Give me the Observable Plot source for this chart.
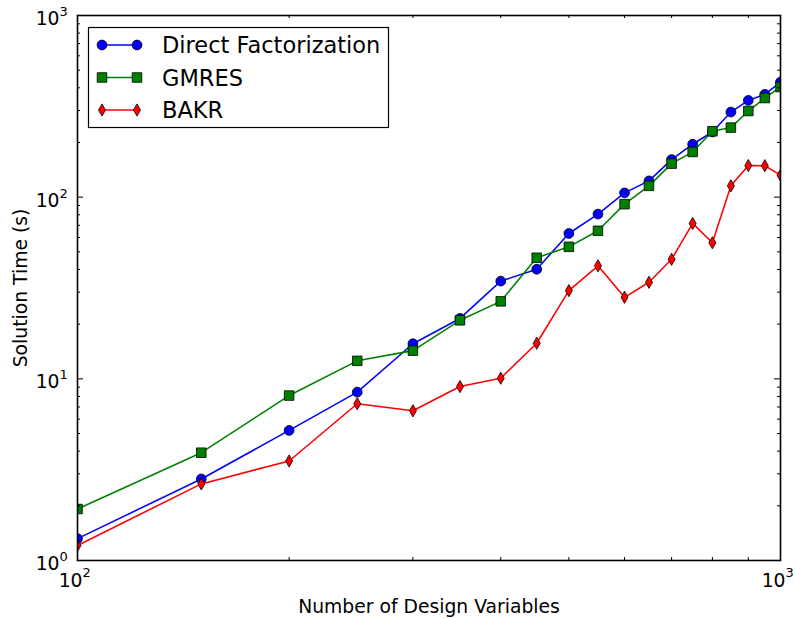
<!DOCTYPE html>
<html><head><meta charset="utf-8">
<script src="https://cdn.jsdelivr.net/npm/d3@7"></script>
<script src="https://cdn.jsdelivr.net/npm/@observablehq/plot@0.6"></script>
<style>
html,body{margin:0;padding:0;background:#fff;}
#wrap{position:relative;width:795px;height:619px;}
#wrap svg{display:block;}
</style></head><body><div id="wrap"></div>
<script>
// ---- data ----
const designVars = [100,150,200,250,300,350,400,450,500,550,600,650,700,750,800,850,900,950,1000];
const directFactorization = [1.32,2.81,5.2,8.45,15.6,21.5,34.5,40.1,63.1,80.7,105.6,122.9,161,195.6,228.5,294,341,368,430];
const gmres = [1.92,3.92,8.09,12.56,14.3,21.0,26.7,46.4,53.3,65.3,91.5,115.4,153,177.4,230.5,241.5,298,351.4,404];
const bakr = [1.21,2.64,3.53,7.29,6.67,9.07,10.08,15.7,30.6,41.9,28.1,34.0,45.5,71.7,56.1,115.4,149.3,149,132];
const seriesNames = ["Direct Factorization","GMRES","BAKR"];
const seriesColors = ["#0000ff","#008000","#ff0000"];
const seriesSymbols = ["circle","square","diamond"];
const seriesR = [4.9,5.4,3.7];
const xMajorTicks = [100,1000];
const xMinorTicks = [200,300,400,500,600,700,800,900];
const yMajorTicks = [1,10,100,1000];
const yMinorTicks = [2,3,4,5,6,7,8,9,20,30,40,50,60,70,80,90,200,300,400,500,600,700,800,900];
const xLabel = "Number of Design Variables";
const yLabel = "Solution Time (s)";

// ---- layout ----
const W = 795, H = 619, mL = 77, mR = 15, mT = 15, mB = 59;
const innerW = W - mL - mR, innerH = H - mT - mB;
const majorLen = 6, minorLen = 3;
const font = "DejaVu Sans";

const seriesValues = [directFactorization, gmres, bakr];
const rows = seriesValues.map((vals, i) => designVars.map((x, j) => ({series: seriesNames[i], x, y: vals[j]})));

const marks = [];
rows.forEach((data, i) => {
  marks.push(Plot.line(data, {x: "x", y: "y", stroke: seriesColors[i], strokeWidth: 1.56, clip: true}));
  marks.push(Plot.dot(data, {x: "x", y: "y", symbol: seriesSymbols[i], r: seriesR[i], fill: seriesColors[i], stroke: "black", strokeWidth: 0.8, clip: true}));
});

// inward ticks on all four sides
const tk = {stroke: "black", strokeWidth: 1};
[[xMajorTicks, majorLen], [xMinorTicks, minorLen]].forEach(([v, len]) => {
  marks.push(Plot.tickX(v, {x: d => d, insetTop: innerH - len, ...tk}));
  marks.push(Plot.tickX(v, {x: d => d, insetBottom: innerH - len, ...tk}));
});
[[yMajorTicks, majorLen], [yMinorTicks, minorLen]].forEach(([v, len]) => {
  marks.push(Plot.tickY(v, {y: d => d, insetRight: innerW - len, ...tk}));
  marks.push(Plot.tickY(v, {y: d => d, insetLeft: innerW - len, ...tk}));
});

// tick labels 10^n
marks.push(Plot.text(xMajorTicks, {x: d => d, frameAnchor: "bottom", text: () => "10", textAnchor: "end", lineAnchor: "bottom", dx: 5, dy: 26.7, fontSize: 18.75}));
marks.push(Plot.text(xMajorTicks, {x: d => d, frameAnchor: "bottom", text: d => String(Math.round(Math.log10(d))), textAnchor: "start", lineAnchor: "bottom", dx: 5, dy: 16, fontSize: 13}));
marks.push(Plot.text(yMajorTicks, {y: d => d, frameAnchor: "left", text: () => "10", textAnchor: "end", lineAnchor: "bottom", dx: -18, dy: 9.5, fontSize: 18.75}));
marks.push(Plot.text(yMajorTicks, {y: d => d, frameAnchor: "left", text: d => String(Math.round(Math.log10(d))), textAnchor: "start", lineAnchor: "bottom", dx: -18, dy: 0.5, fontSize: 13}));

// axis labels
marks.push(Plot.text([xLabel], {frameAnchor: "bottom", text: d => d, textAnchor: "middle", lineAnchor: "bottom", dy: 52, fontSize: 18.75}));
marks.push(Plot.text([yLabel], {frameAnchor: "left", text: d => d, rotate: -90, textAnchor: "middle", lineAnchor: "bottom", dx: -51, fontSize: 18.75}));

marks.push(Plot.frame({stroke: "black", strokeWidth: 1.6}));

const chart = Plot.plot({
  width: W, height: H,
  marginLeft: mL, marginRight: mR, marginTop: mT, marginBottom: mB,
  x: {type: "log", domain: [100, 1000], axis: null},
  y: {type: "log", domain: [1, 1000], axis: null},
  style: {fontFamily: font, fontSize: "18.75px", background: "white", color: "black"},
  marks
});
const wrap = document.getElementById("wrap");
wrap.appendChild(chart);

// legend overlay
const leg = d3.select(wrap).append("svg")
  .attr("width", W).attr("height", H)
  .style("position", "absolute").style("left", "0px").style("top", "0px")
  .style("font-family", font);
leg.append("rect").attr("x", 88.5).attr("y", 27.5).attr("width", 300).attr("height", 100)
  .attr("fill", "white").attr("stroke", "black").attr("stroke-width", 1.2);
const d3Sym = {circle: d3.symbolCircle, square: d3.symbolSquare, diamond: d3.symbolDiamond};
seriesNames.forEach((name, i) => {
  const y = 45 + i * 32.5;
  leg.append("line").attr("x1", 102).attr("x2", 137).attr("y1", y).attr("y2", y)
    .attr("stroke", seriesColors[i]).attr("stroke-width", 1.56);
  [102, 137].forEach(x => {
    leg.append("path").attr("transform", `translate(${x},${y})`)
      .attr("d", d3.symbol(d3Sym[seriesSymbols[i]], Math.PI * seriesR[i] * seriesR[i])())
      .attr("fill", seriesColors[i]).attr("stroke", "black").attr("stroke-width", 0.8);
  });
  leg.append("text").attr("x", 162).attr("y", y + 8).attr("font-size", 22.5).attr("fill", "black").text(name);
});
</script></body></html>
